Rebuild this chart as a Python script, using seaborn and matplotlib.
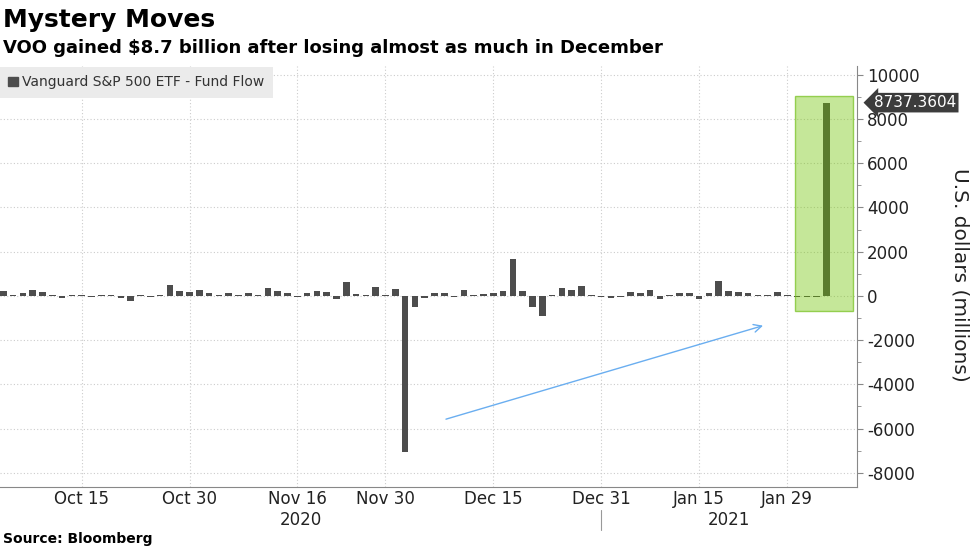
import pandas as pd
import seaborn as sns
import matplotlib.pyplot as plt
from matplotlib.patches import Rectangle, Patch

# Data: daily fund flow of VOO (U.S. dollars, millions), trading days only
holidays = ['2020-11-26', '2020-12-25', '2021-01-01', '2021-01-18']
dates = pd.bdate_range('2020-10-05', '2021-02-04', freq='C', holidays=holidays)
flows = [
    200, 50, 150, 270, 170, 50, -80, 50, 60, -40,
    40, 40, -110, -210, 50, -40, 60, 490, 230, 180,
    260, 150, 60, 120, 50, 120, 50, 365, 230, 120,
    -70, 150, 230, 170, -140, 610, 90, 60, 410, 50,
    300, -7060, -510, -80, 120, 120, -40, 250, 40, 90,
    150, 230, 1690, 230, -510, -920, 40, 360, 260, 450,
    50, -40, -100, -40, 180, 150, 260, -150, 60, 150,
    120, -140, 120, 660, 230, 170, 120, 50, 50, 180,
    50, -50, -50, -40, 8737.3604,
]
tick_dates = ['2020-10-15', '2020-10-30', '2020-11-16', '2020-11-30',
              '2020-12-15', '2020-12-31', '2021-01-15', '2021-01-29']
years = ['2020', '2021']

df = pd.DataFrame({'date': dates.strftime('%Y-%m-%d'), 'flow': flows})

sns.set_style('white')
plt.rcParams['font.family'] = ['DejaVu Sans']

fig = plt.figure(figsize=(9.77, 5.49), dpi=100)
ax = fig.add_axes([0, 0.113, 0.877, 0.767])

sns.barplot(data=df, x='date', y='flow', color='#4d4d4d', width=0.68,
            saturation=1, linewidth=0, ax=ax, zorder=2)

# x axis: labels on dates, small ticks between them
pos = [list(df['date']).index(d) for d in tick_dates]
ax.set_xticks(pos)
ax.set_xticklabels([pd.Timestamp(d).strftime('%b %d') for d in tick_dates], fontsize=12)
ax.set_xticks([2, 13, 25, 35, 45, 56, 66, 75, 86], minor=True)
ax.tick_params(axis='x', which='major', length=0, pad=2, colors='#222222')
ax.tick_params(axis='x', which='minor', length=5, color='#888888', direction='out')
ax.set_xlim(-0.34, 87.1)
ax.set_xlabel('')

# year labels + separator
ax.text(30.4, -0.078, years[0], transform=ax.get_xaxis_transform(), ha='center',
        va='center', fontsize=12, color='#222222')
ax.text(74, -0.078, years[1], transform=ax.get_xaxis_transform(), ha='center',
        va='center', fontsize=12, color='#222222')
ax.plot([61, 61], [-0.055, -0.102], transform=ax.get_xaxis_transform(),
        color='#999999', lw=0.8, clip_on=False)

# y axis on the right
ax.set_ylim(-8640, 10400)
ax.yaxis.tick_right()
ax.set_yticks(range(-8000, 10001, 2000))
ax.set_yticks(range(-8000, 10001, 1000), minor=True)
ax.set_yticklabels([str(v) for v in range(-8000, 10001, 2000)], fontsize=12)
ax.tick_params(axis='y', which='both', length=4, color='#888888', direction='out',
               colors='#222222', left=False, right=True)
ax.tick_params(axis='y', which='minor', length=3)
ax.set_ylabel('')

ax.grid(True, which='major', color='#cccccc', linestyle=(0, (1, 2)), lw=0.8, zorder=0)
for side in ['left', 'top']:
    ax.spines[side].set_visible(False)
for side in ['right', 'bottom']:
    ax.spines[side].set_color('#888888')
    ax.spines[side].set_linewidth(0.8)

# highlight box around the last days
ax.add_patch(Rectangle((80.8, -680), 5.9, 9730, facecolor=(0.44, 0.77, 0.0, 0.4),
                       edgecolor=(0.45, 0.75, 0.1, 0.7), lw=1, zorder=3))

# arrow
ax.annotate('', xy=(77.8, -1310), xytext=(44.9, -5610),
            arrowprops=dict(arrowstyle='->', color='#6aaef0', lw=1, mutation_scale=14),
            zorder=4)

# last value tag
ax.text(1.02, flows[-1], '8737.3604', transform=ax.get_yaxis_transform(),
        color='white', fontsize=11, va='center', ha='left',
        bbox=dict(boxstyle='larrow,pad=0.15', fc='#3c3c3c', ec='none'))

# legend
ax.legend(handles=[Patch(color='#4d4d4d')], labels=['Vanguard S&P 500 ETF - Fund Flow'],
          loc='upper left', bbox_to_anchor=(0, 0.997), frameon=True, facecolor='#ebebeb',
          edgecolor='none', fancybox=False, borderaxespad=0, handlelength=0.7,
          handleheight=0.7, handletextpad=0.3, fontsize=10, borderpad=0.6,
          labelcolor='#333333', framealpha=1)

fig.text(0.983, 0.5, 'U.S. dollars (millions)', rotation=270, ha='center', va='center',
         fontsize=14.5, color='#222222')
fig.text(0.003, 0.963, 'Mystery Moves', fontsize=18, weight='bold', va='center', color='black')
fig.text(0.003, 0.912, 'VOO gained $8.7 billion after losing almost as much in December',
         fontsize=13, weight='bold', va='center', color='black')
fig.text(0.003, 0.018, 'Source: Bloomberg', fontsize=10, weight='bold', va='center',
         color='black')

fig.savefig('out.png', dpi=100)
